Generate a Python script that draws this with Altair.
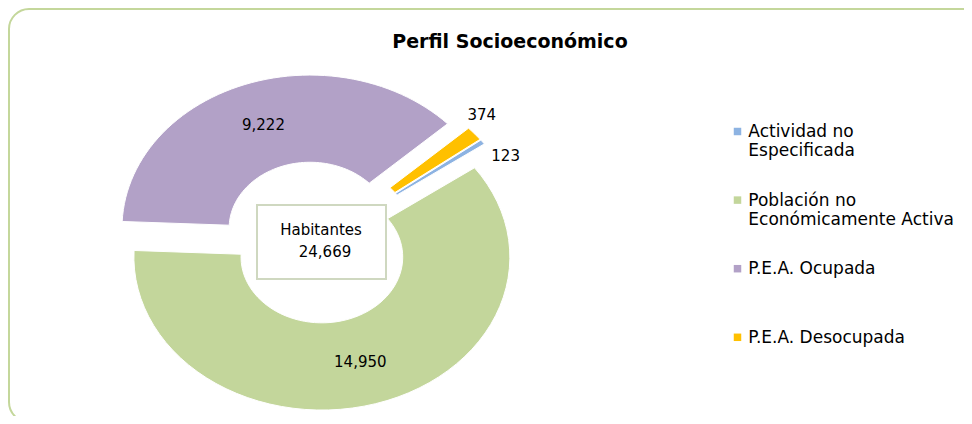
import altair as alt
import pandas as pd

# ---------------- data ----------------
categories = [
    "Actividad no Especificada",
    "Población no Económicamente Activa",
    "P.E.A. Ocupada",
    "P.E.A. Desocupada",
]
legend_labels = [
    "Actividad no\nEspecificada",
    "Población no\nEconómicamente Activa",
    "P.E.A. Ocupada",
    "P.E.A. Desocupada",
]
values = [123, 14950, 9222, 374]
colors = ["#8db3e2", "#c3d69b", "#b2a1c7", "#ffc000"]

title_text = "Perfil Socioeconómico"
center_label = "Habitantes"

df = pd.DataFrame({"category": categories, "label": legend_labels, "value": values})

# ---------------- layout / style ----------------
W, H = 956, 408
START = 52.5      # angle of first slice (degrees, clockwise from top)
HOLE = 0.43       # doughnut hole size
EXPLODE = 0.10    # slice explosion
N = 60            # points per arc edge

cx, cy, rx, ry = 308.5, 234.4, 188, 153
xs = alt.Scale(domain=[-1, 1], range=[cx - rx, cx + rx])
ys = alt.Scale(domain=[-1, 1], range=[cy + ry, cy - ry])
color = alt.Color("category:N", scale=alt.Scale(domain=categories, range=colors), legend=None)
FONT = "DejaVu Sans"

one = alt.Data(values=[{}])

base = (
    alt.Chart(df)
    .transform_joinaggregate(total="sum(value)")
    .transform_window(cum="sum(value)", frame=[None, 0])
    .transform_calculate(a0=f"{START} + 360 * (datum.cum - datum.value) / datum.total")
    .transform_calculate(a1=f"{START} + 360 * datum.cum / datum.total")
    .transform_calculate(mid="(datum.a0 + datum.a1) / 2 * PI / 180")
)

slices = (
    base.transform_calculate(pts=f"sequence(0, {2 * N + 3})")
    .transform_flatten(["pts"], as_=["i"])
    .transform_calculate(outer=f"datum.i <= {N} || datum.i == {2 * N + 2}")
    .transform_calculate(
        t=f"datum.i <= {N} ? datum.i / {N} : (datum.i == {2 * N + 2} ? 0 : ({2 * N + 1} - datum.i) / {N})"
    )
    .transform_calculate(ang="(datum.a0 + (datum.a1 - datum.a0) * datum.t) * PI / 180")
    .transform_calculate(r=f"datum.outer ? 1 : {HOLE}")
    .transform_calculate(px=f"{EXPLODE} * sin(datum.mid) + datum.r * sin(datum.ang)")
    .transform_calculate(py=f"{EXPLODE} * cos(datum.mid) + datum.r * cos(datum.ang)")
    .mark_line(filled=True, stroke="white", strokeWidth=1)
    .encode(
        x=alt.X("px:Q", scale=xs, axis=None),
        y=alt.Y("py:Q", scale=ys, axis=None),
        order=alt.Order("i:Q"),
        color=color,
        detail="category:N",
    )
)

RIN = EXPLODE + (1 + HOLE) / 2
inner_labels = (
    base.transform_filter("datum.value / datum.total > 0.05")
    .transform_calculate(lx=f"{RIN} * sin(datum.mid)", ly=f"{RIN} * cos(datum.mid)")
    .mark_text(font=FONT, fontSize=15, color="black")
    .encode(
        x=alt.X("lx:Q", scale=xs, axis=None),
        y=alt.Y("ly:Q", scale=ys, axis=None),
        text=alt.Text("value:Q", format=","),
    )
)

ROUT = EXPLODE + 1.1


def outer_label(cat, dx, dy):
    return (
        base.transform_filter(alt.datum.category == cat)
        .transform_calculate(lx=f"{ROUT} * sin(datum.mid)", ly=f"{ROUT} * cos(datum.mid)")
        .mark_text(font=FONT, fontSize=15, color="black", dx=dx, dy=dy)
        .encode(
            x=alt.X("lx:Q", scale=xs, axis=None),
            y=alt.Y("ly:Q", scale=ys, axis=None),
            text=alt.Text("value:Q", format=","),
        )
    )


lab_yellow = outer_label(categories[3], -7, -9)
lab_blue = outer_label(categories[0], 8, 23)

border = (
    alt.Chart(one)
    .mark_rect(fillOpacity=0, stroke="#c4d79b", strokeWidth=2, cornerRadius=20)
    .encode(x=alt.value(1), x2=alt.value(1010), y=alt.value(1), y2=alt.value(414))
)

title = (
    alt.Chart(one)
    .mark_text(text=title_text, font=FONT, fontWeight="bold", fontSize=19, align="center",
               baseline="alphabetic", color="black")
    .encode(x=alt.value(502), y=alt.value(39.7))
)

box = (
    alt.Chart(one)
    .mark_rect(fill="white", stroke="#cfd8c0", strokeWidth=2)
    .encode(x=alt.value(249), x2=alt.value(378), y=alt.value(197), y2=alt.value(271))
)

box_title = (
    alt.Chart(one)
    .mark_text(text=center_label, font=FONT, fontSize=15, color="black", align="center", baseline="middle")
    .encode(x=alt.value(313), y=alt.value(222))
)

box_total = (
    alt.Chart(df)
    .transform_aggregate(total="sum(value)")
    .mark_text(font=FONT, fontSize=15, color="black", align="center", baseline="middle")
    .encode(x=alt.value(317), y=alt.value(244), text=alt.Text("total:Q", format=","))
)

leg_y = alt.Scale(domain=categories, range=[123.5, 329.3], type="point", padding=0)
leg_sq = (
    alt.Chart(df)
    .mark_square(size=56, opacity=1)
    .encode(x=alt.value(729.5), y=alt.Y("category:N", scale=leg_y, axis=None), color=color)
)
leg_txt = (
    alt.Chart(df)
    .mark_text(font=FONT, fontSize=17, color="black", align="left", baseline="top", dy=-7.5,
               lineBreak="\n", lineHeight=19)
    .encode(x=alt.value(740.3), y=alt.Y("category:N", scale=leg_y, axis=None), text="label:N")
)

chart = (
    alt.layer(border, title, slices, inner_labels, lab_yellow, lab_blue, box, box_title, box_total,
              leg_sq, leg_txt)
    .resolve_scale(y="independent", x="independent")
    .properties(width=W, height=H, padding=0, autosize=alt.AutoSizeParams(type="none"),
                background="white")
    .configure_view(stroke=None)
)

chart.save("out.html", embed_options={"renderer": "svg", "actions": False})
